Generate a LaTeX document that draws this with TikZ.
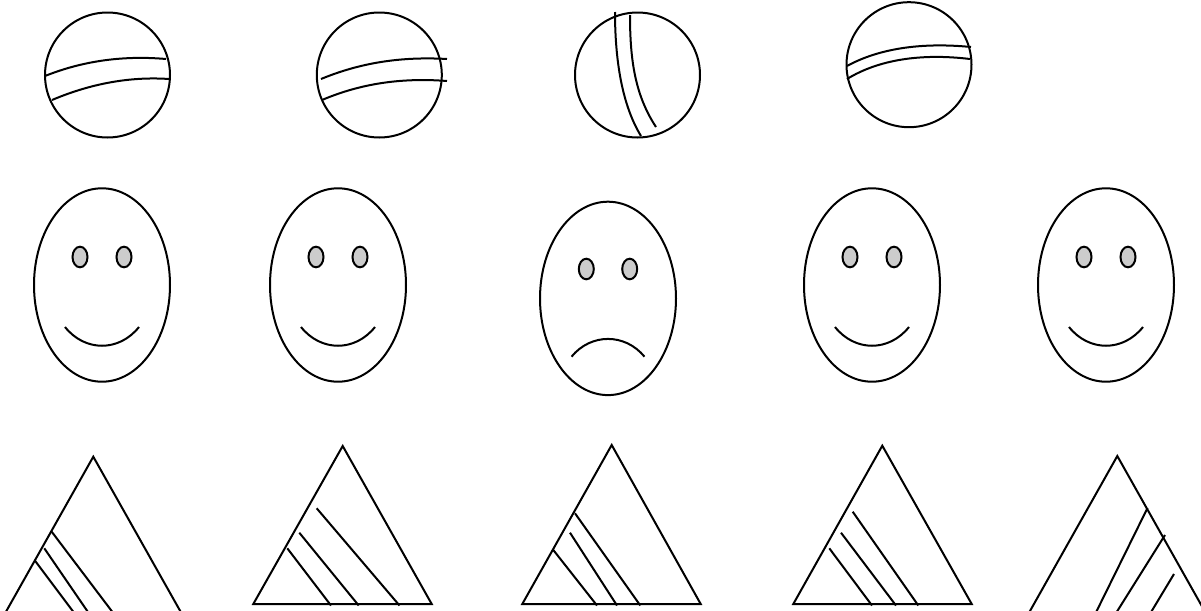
\documentclass[tikz,border=0pt]{standalone}
\usepackage{tikz}
\usetikzlibrary{calc}
\definecolor{inkblack}{RGB}{0,0,0}
\definecolor{eyegray}{RGB}{204,204,204}
\tikzset{
  outline/.style={draw=inkblack,line width=1pt},
  seam/.style={draw=inkblack,line width=1pt},
  eyedot/.style={draw=inkblack,line width=1pt,fill=eyegray},
  hatch/.style={draw=inkblack,line width=1pt}
}
% one smiling face, centred at #1,#2
\newcommand{\happyface}[2]{
  \draw[outline] (#1,#2) ellipse [x radius=68, y radius=96.7];
  \draw[eyedot] ($(#1,#2)+(-22,-28)$) ellipse [x radius=7.5, y radius=10.3];
  \draw[eyedot] ($(#1,#2)+(22,-28)$) ellipse [x radius=7.5, y radius=10.3];
  \draw[outline] ($(#1,#2)+(-37,42)$) .. controls ($(#1,#2)+(-17,67)$)
    and ($(#1,#2)+(17,67)$) .. ($(#1,#2)+(37,42)$);
}

\begin{document}
\begin{tikzpicture}[x=0.5pt,y=-0.5pt]
  \useasboundingbox (0,0) rectangle (1201,611);
  \clip (0,0) rectangle (1201,611);

  % balls
  \draw[outline] (107.5,75) circle [radius=62.5];
  \draw[seam] (45,76) .. controls (80,62) and (120,55) .. (166,59);
  \draw[seam] (52,100) .. controls (85,86) and (125,76) .. (169,79);

  \draw[outline] (379.3,75) circle [radius=62.5];
  \draw[seam] (321,79) .. controls (355,65) and (395,56) .. (447,59);
  \draw[seam] (322,100) .. controls (355,86) and (395,77) .. (447,81);

  \draw[outline] (637.5,75) circle [radius=62.5];
  \draw[seam] (615,12) .. controls (615,60) and (622,105) .. (641,136);
  \draw[seam] (630,15) .. controls (630,60) and (635,95) .. (656,127);

  \draw[outline] (909,64.7) circle [radius=62.5];
  \draw[seam] (847,66) .. controls (878,49) and (920,42) .. (971,47);
  \draw[seam] (847,79) .. controls (878,60) and (920,53) .. (970,59);

  % faces
  \foreach \fx in {102,338,872,1106}
    \happyface{\fx}{285};

  \draw[outline] (608,298.4) ellipse [x radius=68, y radius=96.7];
  \draw[eyedot] (586.3,269) ellipse [x radius=7.5, y radius=10.3];
  \draw[eyedot] (629.7,269) ellipse [x radius=7.5, y radius=10.3];
  \draw[outline] (571.5,356.7) .. controls (591,333) and (625,333) .. (644.5,356.7);

  % triangles
  \draw[outline] (93.3,456.7) -- (4.3,614.7) -- (182.3,614.7) -- cycle;
  \draw[hatch] (51.7,531.7) -- (114.7,615);
  \draw[hatch] (44.3,548.3) -- (90,615);
  \draw[hatch] (35,560.7) -- (75.7,615);

  \draw[outline] (342.7,446) -- (253.3,604) -- (431.7,604) -- cycle;
  \draw[hatch] (316.7,508.3) -- (399.5,605.5);
  \draw[hatch] (299.3,532.7) -- (358.7,605.5);
  \draw[hatch] (287.3,548.3) -- (331,605.5);

  \draw[outline] (611.7,445) -- (522.3,604) -- (700.7,604) -- cycle;
  \draw[hatch] (575,513.3) -- (640.3,605.5);
  \draw[hatch] (570,532.7) -- (617,605.5);
  \draw[hatch] (553.3,550) -- (597,605.5);

  \draw[outline] (882.3,445.7) -- (793.3,604) -- (971.7,604) -- cycle;
  \draw[hatch] (852.7,511.7) -- (918.3,605.5);
  \draw[hatch] (841,532.7) -- (896,605.5);
  \draw[hatch] (829.3,548.3) -- (872,605.5);

  \draw[outline] (1117.3,456) -- (1028.3,614) -- (1206.3,614) -- cycle;
  \draw[hatch] (1147.5,508) -- (1094.2,616);
  \draw[hatch] (1165,535) -- (1114.2,616);
  \draw[hatch] (1174,574) -- (1148.7,616);
\end{tikzpicture}
\end{document}
